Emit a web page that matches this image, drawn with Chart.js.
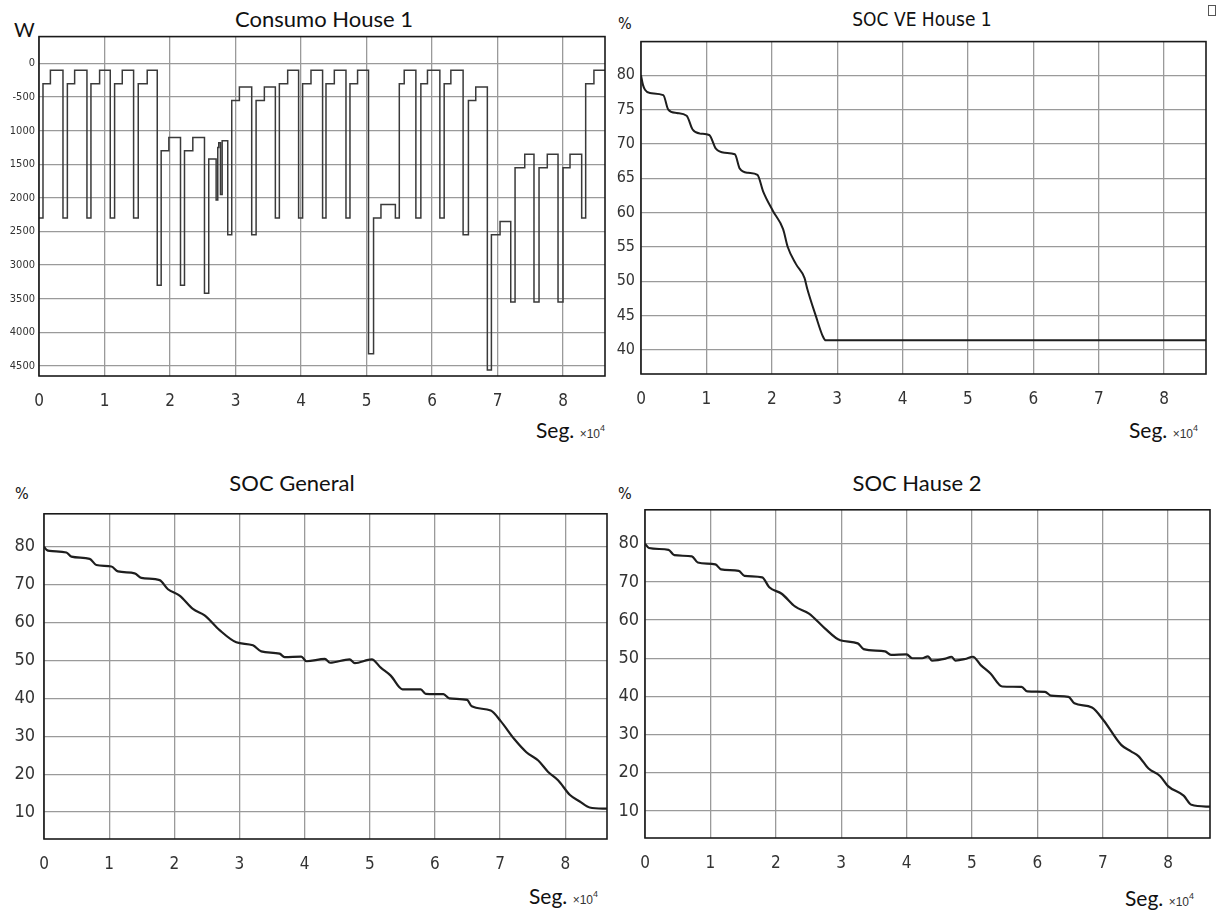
<!DOCTYPE html>
<html>
<head>
<meta charset="utf-8">
<title>Consumo y SOC</title>
<script src="https://cdn.jsdelivr.net/npm/chart.js@4.4.1/dist/chart.umd.min.js"></script>
<style>
  body { margin: 0; background: #fff; width: 1221px; height: 913px; position: relative; overflow: hidden; }
  canvas { position: absolute; }
  .lbl { position: absolute; white-space: nowrap; color: #111; line-height: 1; }
  .cal { font-family: Lato, 'Open Sans', sans-serif; }
  .nar { font-family: 'Liberation Sans Narrow', 'Arial Narrow', 'DejaVu Sans Condensed', sans-serif; }
  .title { font-size: 22px; transform: translateX(-50%); }
  .seg { font-size: 21px; }
  .seg span { font-family: 'Liberation Sans Narrow', 'Arial Narrow', sans-serif; font-size: 12px; color: #333; }
  .seg sup { font-size: 9px; vertical-align: 7px; }
  .icon { position: absolute; left: 1208px; top: 5px; width: 6px; height: 9px; border: 1px solid #555; }
</style>
</head>
<body>

<div class="lbl cal title" style="left:324px; top:8px;">Consumo House 1</div>
<div class="lbl cal" style="left:14px; top:19px; font-size:20px;">W</div>
<div class="lbl cal seg" style="left:536px; top:419px;">Seg. <span>×10<sup>4</sup></span></div>

<div class="lbl nar title" style="left:922px; top:10px; font-size:19px;">SOC VE House 1</div>
<div class="lbl nar" style="left:618px; top:16px; font-size:16px;">%</div>
<div class="lbl cal seg" style="left:1129px; top:419px;">Seg. <span>×10<sup>4</sup></span></div>
<div class="icon"></div>

<div class="lbl cal title" style="left:292px; top:472px;">SOC General</div>
<div class="lbl nar" style="left:15px; top:486px; font-size:16px;">%</div>
<div class="lbl cal seg" style="left:529px; top:885px;">Seg. <span>×10<sup>4</sup></span></div>

<div class="lbl cal title" style="left:917px; top:472px;">SOC Hause 2</div>
<div class="lbl nar" style="left:618px; top:486px; font-size:16px;">%</div>
<div class="lbl cal seg" style="left:1125px; top:887px;">Seg. <span>×10<sup>4</sup></span></div>

<canvas id="consumo"></canvas>
<canvas id="socVe"></canvas>
<canvas id="socGeneral"></canvas>
<canvas id="socHause2"></canvas>

<script>
// Time axis in seconds (one day), labelled in units of 10^4 s
const xTicks = [0, 10000, 20000, 30000, 40000, 50000, 60000, 70000, 80000];
const xTickLabels = ['0', '1', '2', '3', '4', '5', '6', '7', '8'];

// Consumo House 1: each level holds from its time until the next change
const consumoTicks = [0, -500, -1000, -1500, -2000, -2500, -3000, -3500, -4000, -4500];
const consumoTickLabels = ['0', '-500', '1000', '1500', '2000', '2500', '3000', '3500', '4000', '4500'];
const consumoT = [
  0, 610, 1740, 3660, 4330, 5440, 7320, 7930, 9250, 10880,
  11540, 12710, 14440, 15150, 16520, 18050, 18650, 19820, 21600, 22210,
  23480, 25260, 25910, 27040, 27290, 27440, 27700, 27960, 28810, 29420,
  30590, 32470, 33140, 34400, 36080, 36690, 37960, 39630, 40240, 41520,
  43290, 43810, 45080, 46860, 47470, 48630, 50300, 51070, 52200, 54400,
  55000, 55750, 57530, 58290, 59300, 61190, 61850, 62870, 64740, 65550,
  66670, 68440, 69060, 70380, 72010, 72670, 74150, 75560, 76330, 77590,
  79230, 79990, 81060, 82840, 83450, 84710, 86400
];
const consumoW = [
  -2300, -300, -100, -2300, -300, -100, -2300, -300, -100, -2300,
  -300, -100, -2300, -300, -100, -3300, -1300, -1100, -3300, -1300,
  -1100, -3420, -1420, -2030, -1250, -1180, -1950, -1150, -2550, -550,
  -350, -2550, -550, -350, -2300, -300, -100, -2300, -300, -100,
  -2300, -300, -100, -2300, -300, -100, -4320, -2300, -2100, -2300,
  -300, -100, -2300, -300, -100, -2300, -300, -100, -2550, -550,
  -350, -4560, -2550, -2350, -3550, -1550, -1350, -3550, -1550, -1350,
  -3550, -1550, -1350, -2300, -300, -100, -100
];

// SOC VE House 1 (%)
const socVeTicks = [40, 45, 50, 55, 60, 65, 70, 75, 80];
const socVeT = [
  0, 300, 610, 1370, 3410, 4170, 5450, 6980, 7890, 9010,
  10430, 11450, 12820, 14350, 15110, 16380, 17810, 18670, 20200, 21730,
  22440, 23700, 25000, 25400, 26720, 27800, 28250, 86400
];
const socVeV = [
  80, 78.6, 77.9, 77.4, 77.1, 75.0, 74.5, 74.1, 72.1, 71.5,
  71.3, 69.3, 68.7, 68.5, 66.4, 65.8, 65.5, 63.1, 60.2, 57.6,
  55.0, 52.5, 50.5, 49.0, 45.0, 42.0, 41.4, 41.4
];

// SOC General (%)
const socTicks = [10, 20, 30, 40, 50, 60, 70, 80];
const socGenT = [
  0, 400, 870, 3430, 4200, 7010, 8030, 10330, 11350, 13910,
  14930, 17740, 19020, 20810, 22850, 24650, 26950, 29510, 32060, 33340,
  36150, 36920, 39480, 40300, 43100, 43900, 46900, 47700, 50300, 51680,
  53210, 55010, 57820, 58580, 61300, 62200, 64930, 65650, 68560, 70090,
  72200, 74030, 75850, 77370, 78890, 80720, 82220, 83740, 86400
];
const socGenV = [
  80.0, 79.2, 78.9, 78.5, 77.4, 76.8, 75.2, 74.8, 73.5, 73.0,
  71.8, 71.2, 68.8, 67.1, 63.6, 61.9, 58.0, 54.8, 54.0, 52.4,
  51.8, 50.9, 51.0, 49.8, 50.4, 49.4, 50.3, 49.3, 50.3, 48.1,
  46.0, 42.4, 42.4, 41.2, 41.1, 40.0, 39.6, 37.9, 36.8, 34.0,
  29.2, 25.8, 23.6, 20.6, 18.4, 14.5, 12.8, 11.2, 10.9
];

// SOC Hause 2 (%)
const socH2T = [
  0, 600, 3600, 4490, 7170, 8070, 10750, 11640, 14330, 15220,
  17920, 19000, 20900, 22990, 25080, 27460, 29850, 32540, 33430, 36710,
  37610, 40000, 40890, 42390, 43280, 43870, 45960, 46860, 47460, 48950,
  50140, 51340, 52830, 54630, 57580, 58480, 61170, 62080, 64760, 65660,
  68350, 70140, 72820, 74320, 75500, 77000, 78790, 79980, 82370, 83560,
  86400
];
const socH2V = [
  80.0, 78.9, 78.4, 77.0, 76.7, 75.1, 74.6, 73.3, 72.9, 71.6,
  71.2, 68.6, 66.9, 63.5, 61.7, 57.9, 54.7, 53.9, 52.4, 51.8,
  50.9, 51.0, 50.0, 50.0, 50.5, 49.4, 49.9, 50.4, 49.4, 49.8,
  50.4, 48.2, 46.0, 42.6, 42.5, 41.3, 41.2, 40.2, 39.9, 38.2,
  37.1, 33.7, 27.3, 25.6, 24.3, 21.1, 19.1, 16.5, 14.0, 11.6,
  11.1
];

const NARROW = "'Liberation Sans Narrow', 'Arial Narrow', 'DejaVu Sans Condensed', sans-serif";

// black frame around the plot area
const frame = {
  id: 'frame',
  afterDraw(chart) {
    const a = chart.chartArea;
    const ctx = chart.ctx;
    ctx.save();
    ctx.strokeStyle = '#1a1a1a';
    ctx.lineWidth = 1.6;
    ctx.strokeRect(a.left, a.top, a.right - a.left, a.bottom - a.top);
    ctx.restore();
  }
};

function toPoints(ts, vs) {
  return ts.map((t, i) => ({ x: t, y: vs[i] }));
}

// p: canvas placement and axis box sizes; the chart area follows from them
function makePanel(id, p, points, y, line) {
  const el = document.getElementById(id);
  el.width = p.w;
  el.height = p.h;
  el.style.left = p.left + 'px';
  el.style.top = p.top + 'px';

  return new Chart(el, {
    type: 'line',
    data: {
      datasets: [{
        data: points,
        borderColor: line.color,
        borderWidth: line.width,
        pointRadius: 0,
        stepped: line.stepped || false,
        cubicInterpolationMode: line.stepped ? 'default' : 'monotone',
        tension: line.stepped ? 0 : 0.3,
        fill: false
      }]
    },
    options: {
      responsive: false,
      animation: false,
      devicePixelRatio: 1,
      layout: { padding: { top: p.padTop, right: p.padRight, left: 0, bottom: 0 } },
      plugins: { legend: { display: false }, tooltip: { enabled: false } },
      scales: {
        x: {
          type: 'linear',
          min: 0,
          max: 86400,
          afterBuildTicks: s => { s.ticks = xTicks.map(v => ({ value: v })); },
          afterFit: s => { s.height = p.xAxisH; },
          ticks: {
            callback: (v, i) => xTickLabels[i],
            font: { family: NARROW, size: p.xFont },
            color: '#333',
            padding: p.xPad,
            maxRotation: 0
          },
          grid: { color: '#9a9a9a', lineWidth: 1.3, drawTicks: false },
          border: { display: false }
        },
        y: {
          min: y.min,
          max: y.max,
          afterBuildTicks: s => { s.ticks = y.ticks.map(v => ({ value: v })); },
          afterFit: s => { s.width = p.yAxisW; },
          ticks: {
            callback: (v, i) => y.labels[i],
            font: { family: NARROW, size: p.yFont },
            color: '#333',
            padding: p.yPad
          },
          grid: { color: '#9a9a9a', lineWidth: 1.3, drawTicks: false },
          border: { display: false }
        }
      }
    },
    plugins: [frame]
  });
}

makePanel('consumo',
  { left: 0, top: 26, w: 615, h: 400, padTop: 10, padRight: 10, yAxisW: 39, xAxisH: 50,
    xFont: 17, xPad: 15, yFont: 11, yPad: 4 },
  toPoints(consumoT, consumoW),
  { min: -4650, max: 400, ticks: consumoTicks, labels: consumoTickLabels },
  { color: '#3a3a3a', width: 1.5, stepped: true });

makePanel('socVe',
  { left: 601, top: 26, w: 615, h: 398, padTop: 10, padRight: 10, yAxisW: 40, xAxisH: 50,
    xFont: 17, xPad: 15, yFont: 16, yPad: 6 },
  toPoints(socVeT, socVeV),
  { min: 36.5, max: 84.9, ticks: socVeTicks, labels: socVeTicks.map(String) },
  { color: '#1e1e1e', width: 2 });

makePanel('socGeneral',
  { left: 4, top: 494, w: 613, h: 395, padTop: 10, padRight: 10, yAxisW: 40, xAxisH: 50,
    xFont: 17, xPad: 15, yFont: 18, yPad: 9 },
  toPoints(socGenT, socGenV),
  { min: 2.9, max: 88.7, ticks: socTicks, labels: socTicks.map(String) },
  { color: '#1e1e1e', width: 2.2 });

makePanel('socHause2',
  { left: 605, top: 493, w: 613, h: 395, padTop: 10, padRight: 8, yAxisW: 40, xAxisH: 50,
    xFont: 17, xPad: 15, yFont: 18, yPad: 6 },
  toPoints(socH2T, socH2V),
  { min: 2.9, max: 88.9, ticks: socTicks, labels: socTicks.map(String) },
  { color: '#1e1e1e', width: 2.2 });
</script>
</body>
</html>
